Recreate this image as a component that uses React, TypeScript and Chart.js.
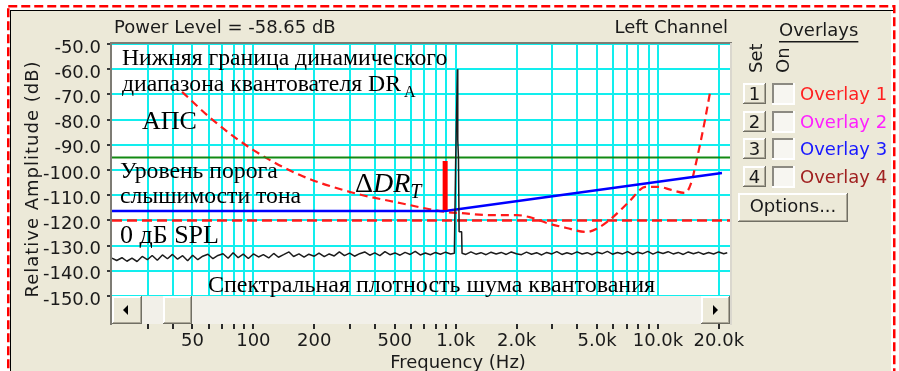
import React, { useEffect, useRef } from 'react';
import { Chart, registerables } from 'chart.js';

Chart.register(...registerables);

// ---- Axis ticks ----
const xGridTicks = [30, 40, 50, 60, 70, 80, 90, 100, 200, 300, 400, 500, 600, 700, 800, 900, 1000, 2000, 3000, 4000, 5000, 6000, 7000, 8000, 9000, 10000, 20000];
const xLabelValues = [50, 100, 200, 500, 1000, 2000, 5000, 10000, 20000];
const xLabelTexts = ['50', '100', '200', '500', '1.0k', '2.0k', '5.0k', '10.0k', '20.0k'];
const yTickValues = [-150, -140, -130, -120, -110, -100, -90, -80, -70, -60, -50];

// ---- Measured spectrum: quantisation noise floor with the 1 kHz tone ----
const spectrumFreqs = [
  20, 21.1, 22.4, 23.7, 25.1, 26.6, 28.2, 29.9, 31.6, 33.5, 35.5, 37.6, 39.8, 42.2, 44.7, 47.3,
  50.1, 53.1, 56.2, 59.6, 63.1, 66.8, 70.8, 75.0, 79.4, 84.1, 89.1, 94.4, 100, 106, 112, 119,
  126, 133, 141, 150, 158, 168, 178, 188, 200, 211, 224, 237, 251, 266, 282, 299,
  316, 335, 355, 376, 398, 422, 447, 473, 501, 531, 562, 596, 631, 668, 708, 750,
  794, 841, 891, 944, 985, 1000, 1020, 1024, 1032, 1040, 1070, 1075, 1122, 1189, 1259, 1334,
  1413, 1496, 1585, 1679, 1778, 1884, 1995, 2113, 2239, 2371, 2512, 2661, 2818, 2985, 3162, 3350,
  3548, 3758, 3981, 4217, 4467, 4732, 5012, 5309, 5623, 5957, 6310, 6683, 7079, 7499, 7943, 8414,
  8913, 9441, 10000, 10593, 11220, 11885, 12589, 13335, 14125, 14962, 15849, 16788, 17783, 18836, 19953, 21135,
  22000,
];
const spectrumLevels = [
  -135.0, -135.9, -134.8, -136.2, -135.0, -136.3, -134.3, -135.6, -133.9, -135.8, -133.7, -135.2, -133.5, -135.4, -134.0, -136.0,
  -133.8, -135.6, -134.2, -133.4, -135.2, -133.9, -133.2, -135.0, -132.8, -134.8, -133.4, -135.1, -133.3, -134.5, -133.6, -134.9,
  -133.1, -134.6, -133.6, -132.5, -134.3, -133.3, -134.6, -133.4, -134.2, -133.0, -134.4, -133.3, -134.1, -132.5, -134.0, -133.0,
  -134.2, -133.2, -132.5, -133.8, -132.9, -134.0, -132.4, -133.6, -132.9, -133.8, -132.7, -133.5, -132.3, -133.7, -132.9, -133.6,
  -132.7, -133.4, -132.6, -133.3, -133.0, -96.0, -60.0, -88.0, -95.0, -124.5, -124.5, -133.0, -133.5, -132.5, -133.4, -132.8,
  -133.6, -132.6, -133.3, -132.7, -133.5, -132.5, -133.2, -133.6, -132.6, -133.4, -132.8, -133.7, -132.7, -133.3, -132.4, -133.5,
  -132.8, -133.4, -132.5, -133.3, -132.8, -133.6, -132.6, -133.2, -132.3, -133.4, -132.7, -133.3, -132.4, -133.5, -132.6, -133.2,
  -132.3, -133.4, -132.5, -133.1, -132.4, -133.3, -132.7, -133.5, -132.5, -133.2, -132.6, -133.4, -132.7, -133.3, -132.5, -133.2,
  -132.8,
];

// ---- Absolute threshold of hearing (АПС) ----
const athFreqs = [44.4, 63.1, 100, 170, 300, 530, 906, 1057, 1477, 2010, 2319, 2818, 3530, 4420, 4950, 5930, 7170, 8690, 10050, 11630, 13620, 14580, 15420, 16310, 17070, 18070];
const athLevels = [-69.0, -80.2, -92.1, -102.0, -108.7, -113.1, -116.7, -117.1, -117.9, -117.9, -118.7, -121.0, -123.0, -124.6, -123.4, -119.0, -112.7, -106.7, -106.7, -107.9, -109.1, -105.2, -97.2, -88.1, -80.2, -69.4];

// ---- Reference levels ----
const spanFreqs = [20, 22700];
const toneThresholdLevel = -95;
const splZeroLevel = -120;
const quantFloorFreqs = [20, 887, 20720];
const quantFloorLevels = [-116.3, -116.3, -101.2];
const deltaFreq = 887;
const deltaLevels = [-96.4, -115.9];

const CYAN = '#12EEEE';
const INK = '#1a1a1a';
const SANS = '"DejaVu Sans", sans-serif';
const SERIF = '"Liberation Serif", "Times New Roman", serif';

function bevel(ctx: CanvasRenderingContext2D, x: number, y: number, w: number, h: number) {
  ctx.fillStyle = '#ECE9D8';
  ctx.fillRect(x, y, w, h);
  ctx.fillStyle = '#FFFFFF';
  ctx.fillRect(x, y, w - 1, 2);
  ctx.fillRect(x, y, 2, h - 1);
  ctx.fillStyle = '#ACA899';
  ctx.fillRect(x + 1, y + h - 2, w - 1, 1);
  ctx.fillRect(x + w - 2, y + 1, 1, h - 1);
  ctx.fillStyle = '#716F64';
  ctx.fillRect(x, y + h - 1, w, 1);
  ctx.fillRect(x + w - 1, y, 1, h);
}

function txt(ctx: CanvasRenderingContext2D, s: string, x: number, y: number, font: string, color = INK, align: CanvasTextAlign = 'left') {
  ctx.font = font;
  ctx.fillStyle = color;
  ctx.textAlign = align;
  ctx.textBaseline = 'alphabetic';
  ctx.fillText(s, x, y);
}

const windowPlugin = {
  id: 'analyzerWindow',
  beforeDraw(chart: any) {
    const { ctx, chartArea: a } = chart;
    ctx.save();
    ctx.fillStyle = '#FFFFFF';
    ctx.fillRect(0, 0, 899, 371);
    ctx.fillStyle = '#ECE9D8';
    ctx.fillRect(10, 10, 881, 361);
    ctx.fillStyle = '#000000';
    ctx.fillRect(10, 10, 885, 1);
    ctx.fillRect(10, 10, 1, 361);
    ctx.strokeStyle = '#FF0000';
    ctx.lineWidth = 2.5;
    ctx.setLineDash([9, 4]);
    ctx.strokeRect(8.25, 6.25, 886, 400);
    ctx.setLineDash([]);
    ctx.fillStyle = '#FFFFFF';
    ctx.fillRect(a.left, a.top, a.right - a.left, a.bottom - a.top);
    ctx.restore();
  },
  afterDraw(chart: any) {
    const { ctx, chartArea: a } = chart;
    ctx.save();

    // annotations inside the plot
    const f24 = `23.7px ${SERIF}`;
    txt(ctx, 'Нижняя граница динамического', 122, 65, f24, '#000');
    txt(ctx, 'диапазона квантователя DR', 122, 90.5, f24, '#000');
    ctx.font = f24;
    const w1 = ctx.measureText('диапазона квантователя DR').width;
    txt(ctx, 'A', 122 + w1 + 3, 97, `16px ${SERIF}`, '#000');
    txt(ctx, 'АПС', 142, 128.5, `26px ${SERIF}`, '#000');
    txt(ctx, 'Уровень порога', 120, 178, f24, '#000');
    txt(ctx, 'слышимости тона', 120, 203, f24, '#000');
    txt(ctx, 'Δ', 355, 192, `28px ${SERIF}`, '#000');
    ctx.font = `28px ${SERIF}`;
    const dw = ctx.measureText('Δ').width;
    txt(ctx, 'DR', 355 + dw, 192, `italic 28px ${SERIF}`, '#000');
    ctx.font = `italic 28px ${SERIF}`;
    const rw = ctx.measureText('DR').width;
    txt(ctx, 'T', 355 + dw + rw, 198, `italic 20px ${SERIF}`, '#000');
    txt(ctx, '0 дБ SPL', 120, 242.5, `26px ${SERIF}`, '#000');

    // scroll bar laid over the lower strip of the plot
    const sy = 296;
    const sh = a.bottom - sy;
    ctx.fillStyle = '#F2F0E9';
    ctx.fillRect(a.left, sy, a.right - a.left, sh);
    txt(ctx, 'Спектральная плотность шума квантования', 208, 291.5, `24px ${SERIF}`, '#000');
    bevel(ctx, a.left, sy, 30, sh);
    bevel(ctx, 163, sy, 29, sh);
    bevel(ctx, a.right - 29, sy, 29, sh);
    ctx.fillStyle = '#000';
    ctx.beginPath();
    ctx.moveTo(123, sy + 14);
    ctx.lineTo(128, sy + 9);
    ctx.lineTo(128, sy + 19);
    ctx.closePath();
    ctx.fill();
    ctx.beginPath();
    ctx.moveTo(718, sy + 14);
    ctx.lineTo(713, sy + 9);
    ctx.lineTo(713, sy + 19);
    ctx.closePath();
    ctx.fill();

    // sunken frame around the plot
    ctx.fillStyle = '#7E7C74';
    ctx.fillRect(a.left - 2, a.top - 2, a.right - a.left + 4, 2);
    ctx.fillRect(a.left - 2, a.top - 2, 2, a.bottom - a.top + 3);
    ctx.fillStyle = '#DAD7CE';
    ctx.fillRect(a.right, a.top - 1, 2, a.bottom - a.top + 2);

    // header
    txt(ctx, 'Power Level = -58.65 dB', 114, 33, `18px ${SANS}`);
    txt(ctx, 'Left Channel', 728, 33, `18px ${SANS}`, INK, 'right');

    // axis titles
    ctx.save();
    ctx.translate(38, 179);
    ctx.rotate(-Math.PI / 2);
    (ctx as any).letterSpacing = '1px';
    txt(ctx, 'Relative Amplitude (dB)', 0, 0, `18px ${SANS}`, INK, 'center');
    (ctx as any).letterSpacing = '0px';
    ctx.restore();
    txt(ctx, 'Frequency (Hz)', 458, 368, `18px ${SANS}`, INK, 'center');

    // overlay panel
    txt(ctx, 'Overlays', 779, 36, `18px ${SANS}`);
    ctx.font = `18px ${SANS}`;
    const ow = ctx.measureText('Overlays').width;
    ctx.fillStyle = INK;
    ctx.fillRect(779, 41, ow, 1.5);
    ctx.save();
    ctx.translate(762, 73);
    ctx.rotate(-Math.PI / 2);
    txt(ctx, 'Set', 0, 0, `18px ${SANS}`);
    ctx.restore();
    ctx.save();
    ctx.translate(789, 73);
    ctx.rotate(-Math.PI / 2);
    txt(ctx, 'On', 0, 0, `18px ${SANS}`);
    ctx.restore();

    const rows = [83, 110.5, 138, 165.5];
    const names = ['Overlay 1', 'Overlay 2', 'Overlay 3', 'Overlay 4'];
    const colors = ['#FF2020', '#FF20FF', '#1818FF', '#A02020'];
    rows.forEach((ry, i) => {
      const y = Math.round(ry);
      bevel(ctx, 743, y, 23, 21);
      txt(ctx, String(i + 1), 754.5, y + 17, `18px ${SANS}`, INK, 'center');
      ctx.fillStyle = '#F7F6F1';
      ctx.fillRect(772, y, 23, 22);
      ctx.fillStyle = '#8C8A82';
      ctx.fillRect(772, y, 23, 2);
      ctx.fillRect(772, y, 2, 22);
      ctx.fillStyle = '#FFFFFF';
      ctx.fillRect(772, y + 20, 23, 2);
      ctx.fillRect(793, y, 2, 22);
      txt(ctx, names[i], 800, y + 17, `18px ${SANS}`, colors[i]);
    });
    bevel(ctx, 738, 193, 110, 29);
    txt(ctx, 'Options...', 793, 212, `18px ${SANS}`, INK, 'center');

    ctx.restore();
  },
};

function pts(xs: number[], ys: number[]) {
  return xs.map((x, i) => ({ x, y: ys[i] }));
}

function makeConfig(): any {
  const tickFont = { family: SANS, size: 18 };
  return {
    type: 'line',
    data: {
      datasets: [
        { label: 'ΔDR_T', data: [{ x: deltaFreq, y: deltaLevels[0] }, { x: deltaFreq, y: deltaLevels[1] }], borderColor: '#FF0000', borderWidth: 5, borderCapStyle: 'butt', order: 0 },
        { label: 'Spectrum', data: pts(spectrumFreqs, spectrumLevels), borderColor: '#1c1c1c', borderWidth: 1.5, borderJoinStyle: 'bevel', order: 1 },
        { label: 'DR_A', data: pts(quantFloorFreqs, quantFloorLevels), borderColor: '#0000FF', borderWidth: 2.5, order: 2 },
        { label: 'Tone threshold', data: spanFreqs.map((x) => ({ x, y: toneThresholdLevel })), borderColor: '#138A13', borderWidth: 2, order: 3 },
        { label: 'АПС', data: pts(athFreqs, athLevels), borderColor: '#FF1A1A', borderWidth: 2.2, borderDash: [8, 5], cubicInterpolationMode: 'monotone', order: 4 },
        { label: '0 dB SPL', data: spanFreqs.map((x) => ({ x, y: splZeroLevel })), borderColor: '#FF1A1A', borderWidth: 2.5, borderDash: [10, 5], order: 5 },
      ],
    },
    options: {
      animation: false,
      responsive: false,
      devicePixelRatio: 1,
      events: [],
      layout: { padding: { left: 0, top: 44, right: 169, bottom: 0 } },
      plugins: { legend: { display: false }, tooltip: { enabled: false }, title: { display: false } },
      elements: { point: { radius: 0 } },
      scales: {
        x: {
          type: 'logarithmic',
          min: 20,
          max: 22700,
          afterBuildTicks: (s: any) => {
            s.ticks = xGridTicks.map((v) => ({ value: v }));
          },
          afterFit: (s: any) => {
            s.height = 47;
          },
          grid: { color: CYAN, lineWidth: 2, tickColor: '#2a2a2a', tickWidth: 2, tickLength: 5 },
          border: { display: false },
          ticks: {
            autoSkip: false,
            maxRotation: 0,
            minRotation: 0,
            padding: 2,
            color: INK,
            font: tickFont,
            callback: (v: any) => {
              const i = xLabelValues.indexOf(Number(v));
              return i >= 0 ? xLabelTexts[i] : '';
            },
          },
        },
        y: {
          type: 'linear',
          min: -161.1,
          max: -50,
          afterBuildTicks: (s: any) => {
            s.ticks = yTickValues.map((v) => ({ value: v }));
          },
          afterFit: (s: any) => {
            s.width = 112;
          },
          grid: { color: CYAN, lineWidth: 2, tickColor: '#3a3a3a', tickWidth: 2, tickLength: 5 },
          border: { display: false },
          ticks: {
            padding: 6,
            labelOffset: 4,
            color: INK,
            font: tickFont,
            callback: (v: any) => Number(v).toFixed(1),
          },
        },
      },
    },
    plugins: [windowPlugin],
  };
}

export default function App() {
  const ref = useRef<HTMLCanvasElement>(null);
  useEffect(() => {
    const chart = new Chart(ref.current as HTMLCanvasElement, makeConfig());
    return () => chart.destroy();
  }, []);
  return (
    <div style={{ position: 'fixed', left: 0, top: 0, width: 899, height: 371, background: '#fff' }}>
      <canvas ref={ref} width={899} height={371} style={{ display: 'block', width: 899, height: 371 }} />
    </div>
  );
}
